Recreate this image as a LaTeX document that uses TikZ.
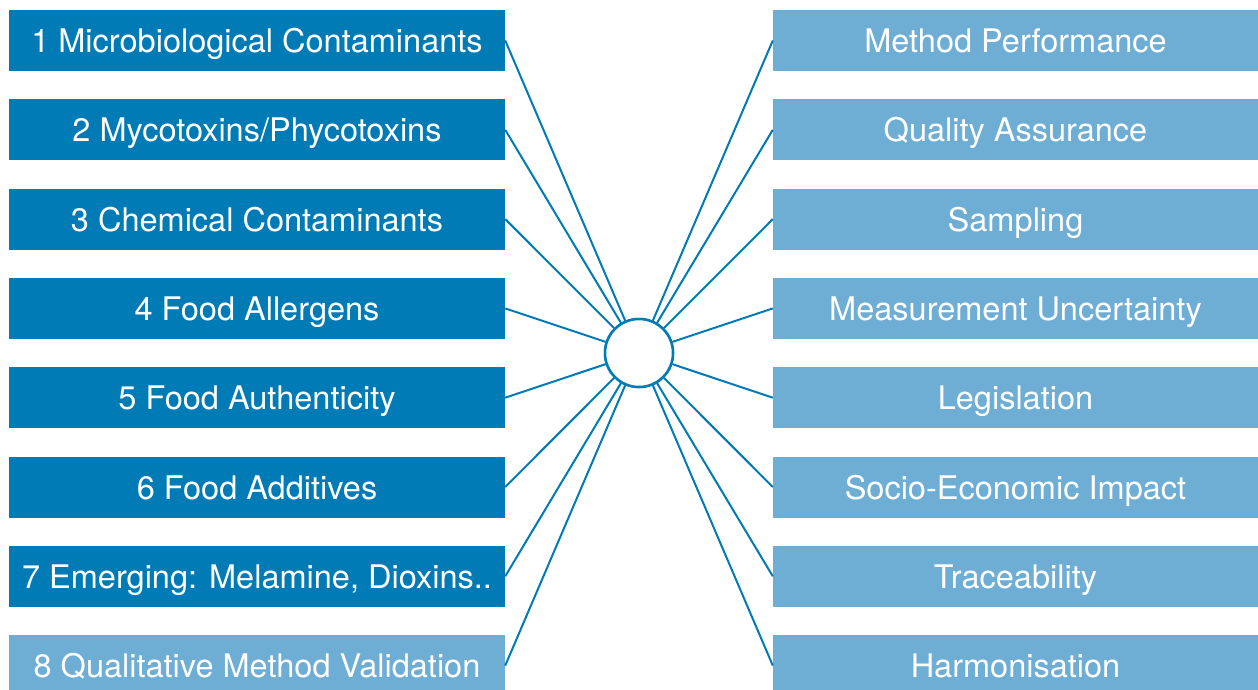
\documentclass[tikz,border=0pt]{standalone}
\usepackage{fontspec}
\setmainfont{TeX Gyre Heros}
\definecolor{darkb}{RGB}{0,123,182}
\definecolor{lightb}{RGB}{110,173,212}
\begin{document}
\begin{tikzpicture}[x=1pt,y=-1pt,
  boxtext/.style={inner sep=0pt,text=white,text height=27pt,text depth=3pt,font=\fontsize{32.5}{38}\selectfont},
  lbox/.style={rectangle,boxtext,minimum width=496pt,minimum height=61pt},
  rbox/.style={rectangle,boxtext,minimum width=485pt,minimum height=61pt,fill=lightb},
  spoke/.style={draw=darkb,line width=2pt},
  hub/.style={circle,draw=darkb,line width=2.5pt,fill=white,minimum size=68pt,inner sep=0pt}]
\useasboundingbox (0,0) rectangle (1258,690);
\clip (0,0) rectangle (1258,690);
\fill[white] (0,0) rectangle (1258,690);
\node[lbox,fill=darkb] (L1) at (257,40.5) {1 Microbiological Contaminants};
\node[lbox,fill=darkb] (L2) at (257,129.8) {2 Mycotoxins/Phycotoxins};
\node[lbox,fill=darkb] (L3) at (257,219.1) {3 Chemical Contaminants};
\node[lbox,fill=darkb] (L4) at (257,308.4) {4 Food Allergens};
\node[lbox,fill=darkb] (L5) at (257,397.7) {5 Food Authenticity};
\node[lbox,fill=darkb] (L6) at (257,487) {6 Food Additives};
\node[lbox,fill=darkb] (L7) at (257,576.3) {7 Emerging: Melamine, Dioxins..};
\node[lbox,fill=lightb] (L8) at (257,665.6) {8 Qualitative Method Validation};
\node[rbox] (R1) at (1015.5,40.5) {Method Performance};
\node[rbox] (R2) at (1015.5,129.8) {Quality Assurance};
\node[rbox] (R3) at (1015.5,219.1) {Sampling};
\node[rbox] (R4) at (1015.5,308.4) {Measurement Uncertainty};
\node[rbox] (R5) at (1015.5,397.7) {Legislation};
\node[rbox] (R6) at (1015.5,487) {Socio-Economic Impact};
\node[rbox] (R7) at (1015.5,576.3) {Traceability};
\node[rbox] (R8) at (1015.5,665.6) {Harmonisation};
\node[hub] (C) at (639,353) {};
\foreach \i in {1,...,8}{
  \draw[spoke] (L\i.east) -- (C);
  \draw[spoke] (R\i.west) -- (C);
}
\node[hub] at (C) {};
\end{tikzpicture}
\end{document}
